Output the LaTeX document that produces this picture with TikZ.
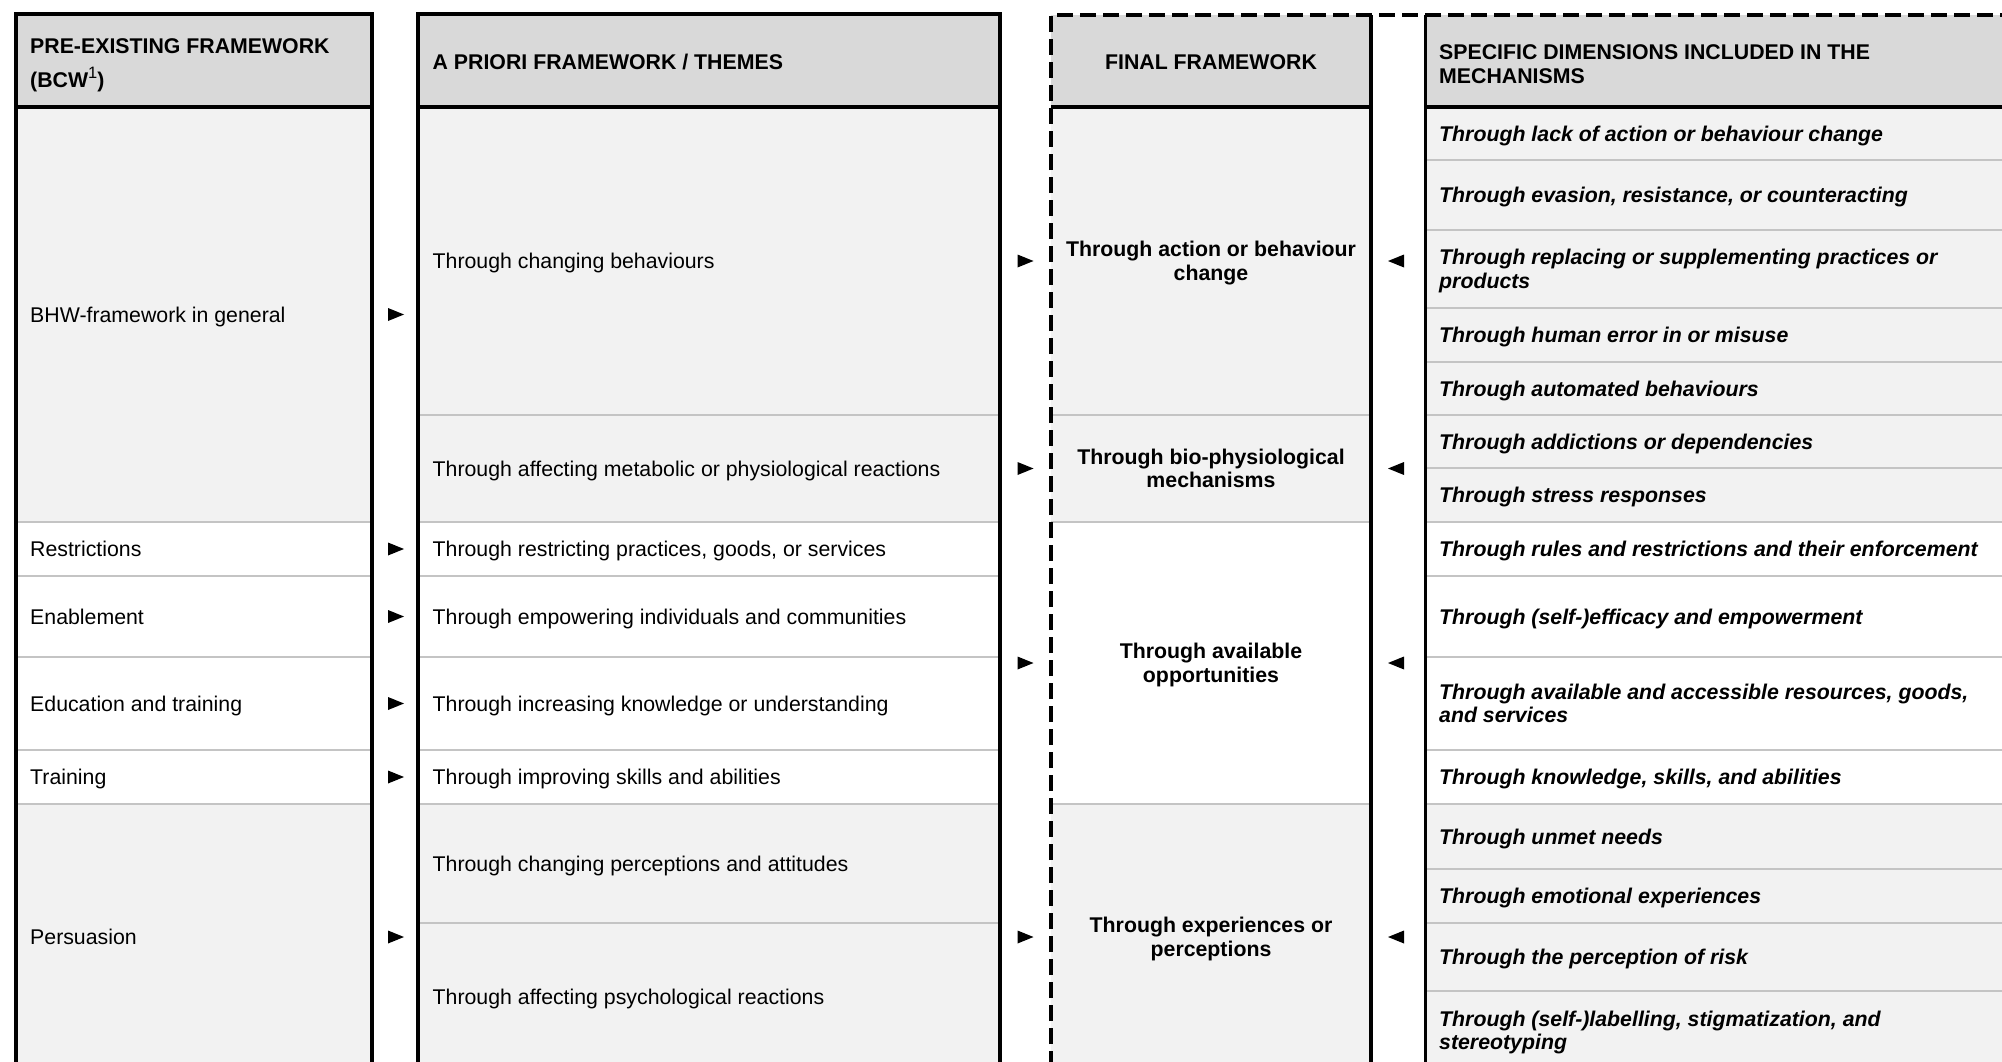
\documentclass[tikz,border=0pt]{standalone}
\usepackage{fontspec}
\setmainfont{Liberation Sans}
\definecolor{hdrgray}{HTML}{D9D9D9}
\definecolor{bodygray}{HTML}{F2F2F2}
\definecolor{sepgray}{HTML}{C4C4C4}
\newcommand\tright[2]{\fill (#1,#2) ++(-8,-6.5) -- ++(16,6.5) -- ++(-16,6.5) -- cycle;}
\newcommand\tleft[2]{\fill (#1,#2) ++(8,-6.5) -- ++(-16,6.5) -- ++(16,6.5) -- cycle;}
\newcommand\supone{\raisebox{9pt}{\normalfont\fontsize{16.5}{16.5}\selectfont 1}}
\tikzset{
  txt/.style={anchor=base west, inner sep=0pt, align=left, font=\fontsize{21.3}{23.5}\selectfont},
  hdr/.style={anchor=base west, inner sep=0pt, align=left, font=\fontsize{21.3}{23.3}\selectfont\bfseries},
  ctr/.style={anchor=base, inner sep=0pt, align=center, font=\fontsize{21.3}{23.5}\selectfont\bfseries},
  dimtxt/.style={anchor=base west, inner sep=0pt, align=left, font=\fontsize{21.3}{23.5}\selectfont\bfseries\itshape},
  sepline/.style={draw=sepgray, line width=2.6pt},
  frameline/.style={draw=black, line width=3.3pt},
  dframe/.style={draw=black, line width=4pt, dash pattern=on 16pt off 7pt},
}
\begin{document}
\begin{tikzpicture}[x=1pt,y=-1pt]
\useasboundingbox (0,0) rectangle (2002,1062);
\clip (0,0) rectangle (2002,1062);
\fill[white] (0,0) rectangle (2002,1062);
% ---------- fills ----------
\foreach \xa/\xb/\yt in {16/372/14, 418/1000/14, 1051/1371/15, 1425.5/2060/15}{
  \fill[hdrgray] (\xa,\yt) rectangle (\xb,107);
  \fill[bodygray] (\xa,107) rectangle (\xb,522);
  \fill[bodygray] (\xa,804) rectangle (\xb,1090);
}
% ---------- row separators ----------
\foreach \y in {522,576,657,750,804}{\draw[sepline] (16,\y) -- (372,\y);}
\foreach \y in {415,522,576,657,750,804,923}{\draw[sepline] (418,\y) -- (1000,\y);}
\foreach \y in {415,522,804}{\draw[sepline] (1051,\y) -- (1371,\y);}
\foreach \y in {160,230,308,362,415,468,522,576,657,750,804,869,923,991}{\draw[sepline] (1425.5,\y) -- (2060,\y);}
% ---------- header bottoms ----------
\draw[frameline] (16,107) -- (372,107);
\draw[frameline] (418,107) -- (1000,107);
\draw[frameline] (1051,107) -- (1371,107);
\draw[frameline] (1425.5,107) -- (2060,107);
% ---------- frames ----------
\draw[frameline] (16,14) rectangle (372,1090);
\draw[frameline] (418,14) rectangle (1000,1090);
\draw[frameline] (1371,15) -- (1371,1090);
\draw[frameline] (1425.5,15) -- (1425.5,1090);
\draw[dframe] (1051,1090) -- (1051,15.3) -- (2060,15.3);
% ---------- column 1 ----------
\node[hdr, font=\fontsize{21.3}{34}\selectfont\bfseries] (h1) at (30,87.6) {PRE-EXISTING FRAMEWORK\\(BCW\supone)};
\node[txt] (a1) at (30,322.1) {BHW-framework in general};
\node[txt] (a2) at (30,556.6) {Restrictions};
\node[txt] (a3) at (30,624.1) {Enablement};
\node[txt] (a4) at (30,711.1) {Education and training};
\node[txt] (a5) at (30,784.6) {Training};
\node[txt] (a6) at (30,944.6) {Persuasion};
% ---------- column 2 ----------
\node[hdr] (h2) at (432.5,70) {A PRIORI FRAMEWORK / THEMES};
\node[txt] (b1) at (432.5,268.6) {Through changing behaviours};
\node[txt] (b2) at (432.5,476.1) {Through affecting metabolic or physiological reactions};
\node[txt] (b3) at (432.5,556.6) {Through restricting practices, goods, or services};
\node[txt] (b4) at (432.5,624.1) {Through empowering individuals and communities};
\node[txt] (b5) at (432.5,711.1) {Through increasing knowledge or understanding};
\node[txt] (b6) at (432.5,784.6) {Through improving skills and abilities};
\node[txt] (b7) at (432.5,871.1) {Through changing perceptions and attitudes};
\node[txt] (b8) at (432.5,1004.1) {Through affecting psychological reactions};
% ---------- column 3 ----------
\node[ctr] (h3) at (1211,70) {FINAL FRAMEWORK};
\node[ctr] (c1) at (1211,280.35) {Through action or behaviour\\change};
\node[ctr] (c2) at (1211,487.85) {Through bio-physiological\\mechanisms};
\node[ctr] (c3) at (1211,682.35) {Through available\\opportunities};
\node[ctr] (c4) at (1211,956.35) {Through experiences or\\perceptions};
% ---------- column 4 ----------
\node[hdr] (h4) at (1439,83.1) {SPECIFIC DIMENSIONS INCLUDED IN THE\\MECHANISMS};
\node[dimtxt] (d1) at (1439,141.1) {Through lack of action or behaviour change};
\node[dimtxt] (d2) at (1439,202.6) {Through evasion, resistance, or counteracting};
\node[dimtxt] (d3) at (1439,288.35) {Through replacing or supplementing practices or\\products};
\node[dimtxt] (d4) at (1439,342.6) {Through human error in or misuse};
\node[dimtxt] (d5) at (1439,396.1) {Through automated behaviours};
\node[dimtxt] (d6) at (1439,449.1) {Through addictions or dependencies};
\node[dimtxt] (d7) at (1439,502.6) {Through stress responses};
\node[dimtxt] (d8) at (1439,556.6) {Through rules and restrictions and their enforcement};
\node[dimtxt] (d9) at (1439,624.1) {Through (self-)efficacy and empowerment};
\node[dimtxt] (d10) at (1439,722.85) {Through available and accessible resources, goods,\\and services};
\node[dimtxt] (d11) at (1439,784.6) {Through knowledge, skills, and abilities};
\node[dimtxt] (d12) at (1439,844.1) {Through unmet needs};
\node[dimtxt] (d13) at (1439,903.6) {Through emotional experiences};
\node[dimtxt] (d14) at (1439,964.6) {Through the perception of risk};
\node[dimtxt] (d15) at (1439,1049.85) {Through (self-)labelling, stigmatization, and\\stereotyping};
% ---------- pointers ----------
\foreach \y in {314.5,549,616.5,703.5,777,937}{\tright{396}{\y}}
\foreach \y in {261,468.5,663,937}{\tright{1025.5}{\y}}
\foreach \y in {261,468.5,663,937}{\tleft{1396}{\y}}
\end{tikzpicture}
\end{document}
